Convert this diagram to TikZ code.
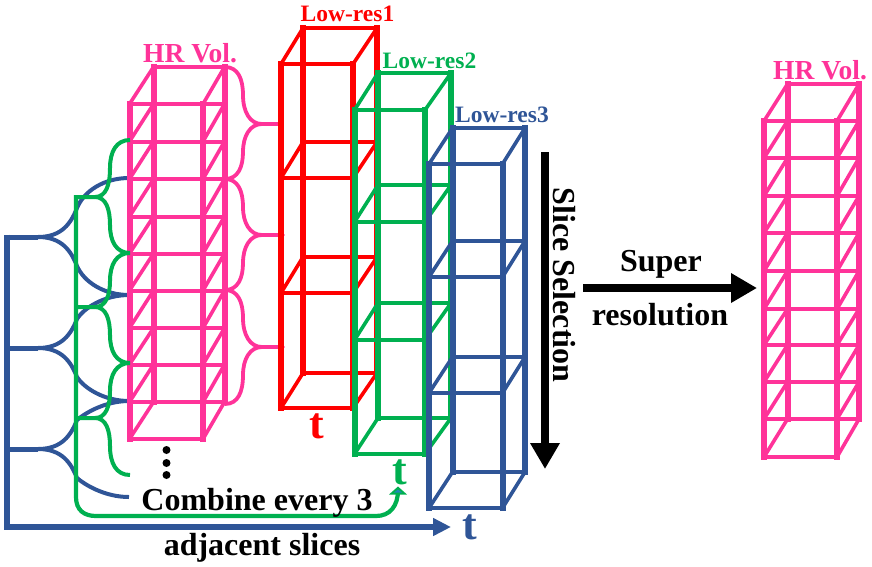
\documentclass[tikz,border=0pt]{standalone}
\usepackage{fontspec}
\setmainfont{Liberation Serif}
\usetikzlibrary{arrows.meta}
\definecolor{hrpink}{HTML}{FF3399}
\definecolor{lrred}{HTML}{FF0000}
\definecolor{lrgreen}{HTML}{00B050}
\definecolor{lrblue}{HTML}{2F5597}
\newcommand{\cuboid}[6]{%
  % colour, x front-left, x back-left, x front-right, x back-right, list of front/back y
  \foreach \yf/\yb in {#6} {
    \draw[line width=4pt,#1] (#2,\yf) -- (#4,\yf);
    \draw[line width=4pt,#1] (#3,\yb) -- (#5,\yb);
    \draw[line width=3.6pt,#1] (#2,\yf) -- (#3,\yb);
    \draw[line width=3.6pt,#1] (#4,\yf) -- (#5,\yb);
  }
}
\newcommand{\uprights}[8]{%
  \draw[line width=6pt,#1,line cap=rect] (#2,#6) -- (#2,#7);
  \draw[line width=6pt,#1,line cap=rect] (#4,#6) -- (#4,#7);
  \draw[line width=6pt,#1,line cap=rect] (#3,#8) -- (#3,\backbot);
  \draw[line width=6pt,#1,line cap=rect] (#5,#8) -- (#5,\backbot);
}
\tikzset{
  label text/.style={font=\bfseries\fontsize{#1}{#1}\selectfont,inner sep=0pt,anchor=center},
  pink brace/.style={draw=hrpink,line width=3.8pt,line cap=round},
  green brace/.style={draw=lrgreen,line width=4pt},
  blue brace/.style={draw=lrblue,line width=4pt},
  big arrow/.style={line width=8pt,black,-{Triangle[length=26pt,width=28pt]}},
}
\begin{document}
\begin{tikzpicture}[x=1pt,y=-1pt]
\useasboundingbox (0,0) rectangle (872,566);

% ---- blue brace tree and axis
\foreach \ym/\yt/\yd in {237/178/295,348/295/401,449/401/497}{
  \path[blue brace] (38,\ym) .. controls (62,\ym) and (71,{\ym-14}) .. (77,{\ym-29})
     .. controls (84,{\yt+13}) and (104,\yt) .. (129,\yt);
  \path[blue brace] (38,\ym) .. controls (62,\ym) and (71,{\ym+14}) .. (77,{\ym+29})
     .. controls (84,{\yd-13}) and (104,\yd) .. (129,\yd);
  \draw[lrblue,line width=5pt] (7,\ym) -- (38,\ym);
}
\coordinate (axisTop) at (7,234.5);
\coordinate (axisCorner) at (7,527);
\coordinate (axisEnd) at (451,527);
\draw[lrblue,line width=5.5pt,-{Triangle[length=18pt,width=17pt]}] (axisTop) -- (axisCorner) -- (axisEnd);

% ---- HR volume (left)
\cuboid{hrpink}{129.5}{153.5}{203}{224.5}{104/67,141.5/104,179/141.5,216.5/179,253.5/216.5,290.5/253.5,328/290.5,364.5/328,402/364.5,439/402}
\def\backbot{402}
\uprights{hrpink}{129.5}{153.5}{203}{224.5}{104}{439}{67}

% ---- pink braces to low-res 1
\foreach \yt/\ym/\yb/\xe in {67/124/179/280,179/235/290/283,290/347/404/283}{
  \path[pink brace] (225,\yt) .. controls (238,\yt) and (243,{\yt+12}) .. (243,{\yt+28})
     .. controls (243,{\ym-12}) and (250,\ym) .. (262,\ym) -- (\xe,\ym);
  \path[pink brace] (262,\ym) .. controls (250,\ym) and (243,{\ym+12}) .. (243,{\ym+28})
     .. controls (243,{\yb-12}) and (238,\yb) .. (225,\yb);
}

% ---- green brace tree and axis
\foreach \yt/\ym/\yb in {140/197/253,253/307/363,363/418/475}{
  \path[green brace] (130,\yt) .. controls (116,\yt) and (110,{\yt+12}) .. (110,{\yt+28})
     .. controls (110,{\ym-12}) and (106,\ym) .. (95,\ym) -- (75,\ym);
  \path[green brace] (95,\ym) .. controls (106,\ym) and (110,{\ym+12}) .. (110,{\ym+28})
     .. controls (110,{\yb-12}) and (116,\yb) .. (130,\yb);
}
\coordinate (gTop) at (76,195);
\coordinate (gEnd) at (398,490);
\draw[lrgreen,line width=4.2pt] (gTop) -- (76,497) .. controls (76,510) and (84,516) .. (96,516)
   -- (376,516) .. controls (390,516) and (398,506) .. (gEnd);
\fill[lrgreen] (398,486.5) -- (407,494.5) -- (389,494.5) -- cycle;
\fill[lrblue!70!cyan] (398,489.5) -- (402,492.5) -- (394,492.5) -- cycle;

% ---- low-res 1
\cuboid{lrred}{281}{303}{353}{377}{64/28,178/142,293/257,408/373}
\def\backbot{373}
\uprights{lrred}{281}{303}{353}{377}{64}{408}{28}
% ---- low-res 2
\cuboid{lrgreen}{354.5}{378}{425}{451}{110/73,222/185,340/303,454/418}
\def\backbot{418}
\uprights{lrgreen}{354.5}{378}{425}{451}{110}{454}{73}
% ---- low-res 3
\cuboid{lrblue}{429}{452.5}{502.5}{525}{164/128,277/241,393/357,508/472}
\def\backbot{472}
\uprights{lrblue}{429}{452.5}{502.5}{525}{164}{508}{128}

% ---- HR volume (right)
\cuboid{hrpink}{764}{787.5}{837}{859}{121/84,158/121,196/158,233/196,271/233,309/271,345/309,382/345,419/382,457/419}
\def\backbot{419}
\uprights{hrpink}{764}{787.5}{837}{859}{121}{457}{84}

% ---- large arrows
\coordinate (selTop) at (545,152);
\coordinate (selEnd) at (545,469);
\draw[big arrow] (selTop) -- (selEnd);
\coordinate (srStart) at (583,288);
\coordinate (srEnd) at (757,288);
\draw[big arrow] (srStart) -- (srEnd);

% ---- dots
\foreach \y in {450,463,475}{
  \fill[black] (166.5,\y) circle (4pt);
}

% ---- labels
\node[label text=27.5,text=hrpink] (hrL) at (190,53) {HR Vol.};
\node[label text=27.5,text=hrpink] (hrR) at (820,70) {HR Vol.};
\node[label text=23.5,text=lrred] (lr1) at (347.5,14) {Low-res1};
\node[label text=23.5,text=lrgreen] (lr2) at (429.5,61) {Low-res2};
\node[label text=23.5,text=lrblue] (lr3) at (502,115) {Low-res3};
\node[label text=44,text=lrred] (t1) at (317,426) {t};
\node[label text=44,text=lrgreen] (t2) at (400,472) {t};
\node[label text=44,text=lrblue] (t3) at (470,527) {t};
\node[label text=32,text=black] (comb) at (257,503) {Combine every 3};
\node[label text=32,text=black] (adj) at (262,548) {adjacent slices};
\node[label text=32,text=black,rotate=-90] (sel) at (564,285) {Slice Selection};
\node[label text=32,text=black] (sup) at (661,264) {Super};
\node[label text=32,text=black] (res) at (660,315) {resolution};
\end{tikzpicture}
\end{document}
